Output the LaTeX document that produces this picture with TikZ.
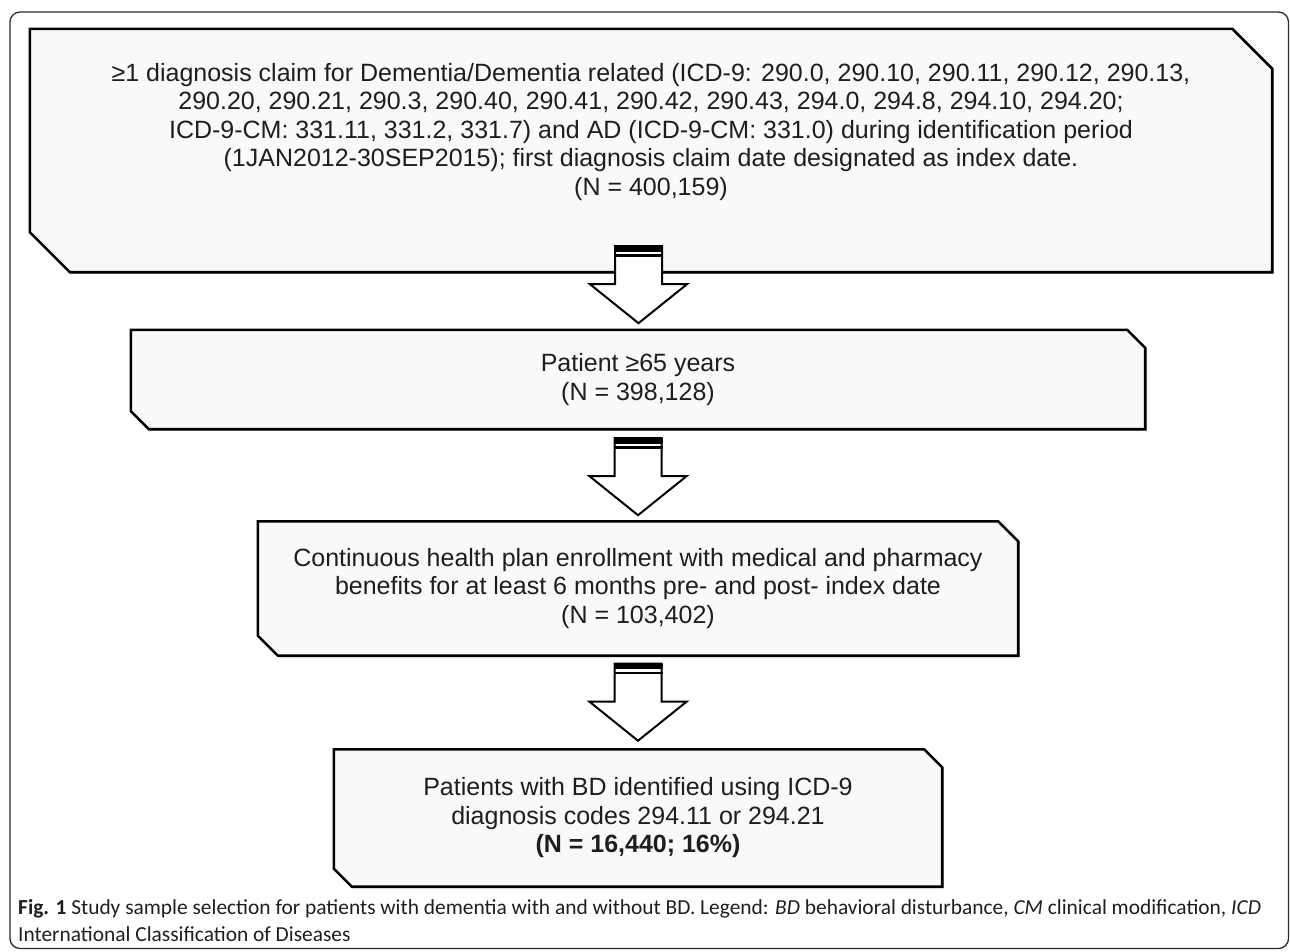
\documentclass[tikz,border=0pt]{standalone}
\usepackage{fontspec}
\setmainfont{Liberation Sans}
\newfontfamily\capfont{Carlito}
\usepackage{tikz}
\usetikzlibrary{positioning,shadows,backgrounds}
\definecolor{boxfill}{HTML}{F9F9F9}
\definecolor{framegray}{HTML}{2B2B2B}
\definecolor{inkgray}{HTML}{1E1E1E}

% snipped frame behind a box node: node name, size of the cut corners
\newcommand{\snipframe}[2]{%
  \begin{scope}[on background layer]
    \draw[boxline] (#1.north west) -- ([xshift=-#2]#1.north east) -- ([yshift=-#2]#1.north east)
      -- (#1.south east) -- ([xshift=#2]#1.south west) -- ([yshift=#2]#1.south west) -- cycle;
  \end{scope}}

\begin{document}
\begin{tikzpicture}[x=1pt, y=-1pt,
    critbox/.style={rectangle, inner sep=0pt, align=center, text=inkgray,
        font=\fontsize{25}{28.5}\selectfont},
    boxline/.style={draw=black, line width=2.6pt, fill=boxfill, line join=miter,
        drop shadow={shadow xshift=1.5pt, shadow yshift=-1.5pt, fill=gray!55, opacity=1}},
    bigarrow/.pic={
        \draw[line width=2pt, fill=white, line join=miter]
            (-23.5,0) -- (-23.5,38) -- (-48.5,38) -- (0,77) -- (48.5,38) -- (23.5,38) -- (23.5,0) -- cycle;
        \fill[black] (-24.5,0) rectangle (24.5,5.5);
        \fill[black] (-24.5,8) rectangle (24.5,10.5);
    }
]
\useasboundingbox (0,0) rectangle (1290,951);

% Outer frame
\draw[framegray, line width=1.3pt, rounded corners=10pt] (10,12) rectangle (1288.5,948.5);

% Identification period
\node[critbox, minimum width=1242, minimum height=243] (ident) at (651,150.5) {};
\node[critbox] (identtext) at (651,132) {≥1 diagnosis claim for Dementia/Dementia related (ICD-9: 290.0, 290.10, 290.11, 290.12, 290.13,\\
290.20, 290.21, 290.3, 290.40, 290.41, 290.42, 290.43, 294.0, 294.8, 294.10, 294.20;\\
ICD-9-CM: 331.11, 331.2, 331.7) and AD (ICD-9-CM: 331.0) during identification period\\
(1JAN2012-30SEP2015); first diagnosis claim date designated as index date.\\
(N = 400,159)};
\snipframe{ident}{40pt}

% Age
\node[critbox, minimum width=1014, minimum height=99] (age) at (638,379.5)
      {Patient ≥65 years\\(N = 398,128)};
\snipframe{age}{18pt}

% Enrollment
\node[critbox, minimum width=760, minimum height=134] (enroll) at (638,588.5)
      {Continuous health plan enrollment with medical and pharmacy\\benefits for at least 6 months pre- and post- index date\\(N = 103,402)};
\snipframe{enroll}{20pt}

% Final sample
\node[critbox, minimum width=608, minimum height=137] (bd) at (638,818)
      {Patients with BD identified using ICD-9\\diagnosis codes 294.11 or 294.21\\\textbf{(N = 16,440; 16\%)}};
\snipframe{bd}{18pt}

% Block arrows
\pic at ([xshift=-12.5pt,yshift=26pt]ident.south) {bigarrow};
\pic at ([yshift=-9pt]age.south) {bigarrow};
\pic at ([yshift=-8pt]enroll.south) {bigarrow};

% Caption
\node[anchor=north west, inner sep=0pt, align=left, text=inkgray,
      font=\capfont\fontsize{21.4}{27}\selectfont] (caption) at (18,899)
      {\textbf{Fig. 1} Study sample selection for patients with dementia with and without BD. Legend: \textit{BD} behavioral disturbance, \textit{CM} clinical modification, \textit{ICD}\\
International Classification of Diseases};

\end{tikzpicture}
\end{document}
